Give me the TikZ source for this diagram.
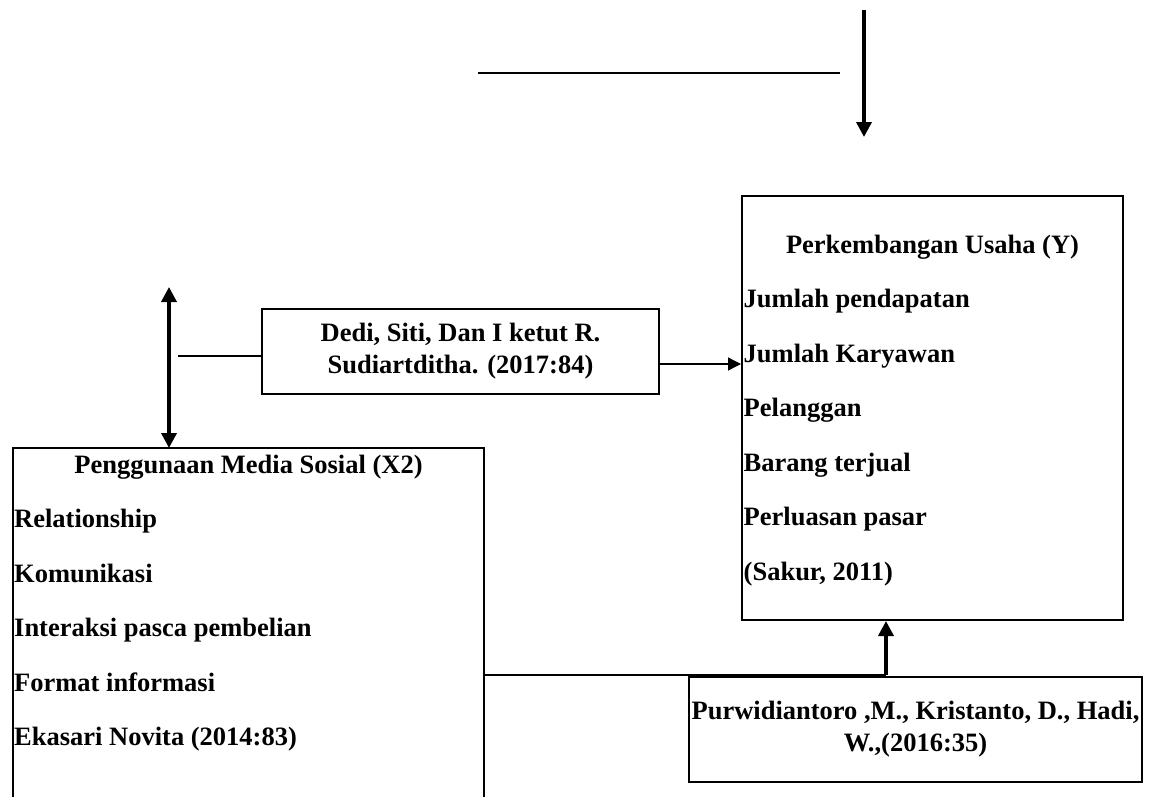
\documentclass[tikz,border=0pt]{standalone}
\usepackage{fontspec}
\setmainfont{Liberation Serif}
\usetikzlibrary{arrows.meta}

\tikzset{
  box/.style={draw, line width=2pt, rectangle, inner sep=0pt, align=center},
  itemtext/.style={anchor=base west, inner sep=0pt},
  titletext/.style={anchor=base, inner sep=0pt},
  thinline/.style={line width=1.3pt},
  thinarrow/.style={line width=1.3pt, -{Triangle[width=13pt,length=13pt]}},
  thickarrow/.style={line width=3.5pt, -{Triangle[width=15pt,length=15pt]}},
  botharrow/.style={line width=3.5pt, {Triangle[width=15pt,length=15pt]}-{Triangle[width=15pt,length=15pt]}}
}

\begin{document}
\begin{tikzpicture}[x=1pt, y=-1pt, font=\fontsize{26.5}{32}\selectfont\bfseries]
\useasboundingbox (0,0) rectangle (1154,796);

% boxes
\node[box, minimum width=381pt, minimum height=424pt] (usaha) at (932.5,408) {};
\node[box, minimum width=397pt, minimum height=85pt] (dedi) at (460.5,351.5) {Dedi, Siti, Dan I ketut R.\\Sudiartditha. (2017:84)};
\node[box, minimum width=453pt, minimum height=105pt] (purwi) at (915.5,729.5) {Purwidiantoro ,M., Kristanto, D., Hadi,\\W.,(2016:35)};
\coordinate (media-nw) at (13,448);
\coordinate (media-ne) at (484,448);
\draw[line width=2pt] (13,800) -- (media-nw) -- (media-ne) -- (484,800);

% box texts
\node[titletext] (usaha-title) at (932.5,253) {Perkembangan Usaha (Y)};
\foreach \txt [count=\i] in {Jumlah pendapatan, Jumlah Karyawan, Pelanggan, Barang terjual, Perluasan pasar, {(Sakur, 2011)}}
  \node[itemtext] (usaha-\i) at (743.5,253+54.5*\i) {\txt};
\node[titletext] (media-title) at (248.5,473) {Penggunaan Media Sosial (X2)};
\foreach \txt [count=\i] in {Relationship, Komunikasi, Interaksi pasca pembelian, Format informasi, Ekasari Novita (2014:83)}
  \node[itemtext] (media-\i) at (14,473+54.5*\i) {\txt};

% connectors
\coordinate (top-a) at (478,73);
\coordinate (top-b) at (840,73);
\draw[thinline] (top-a) -- (top-b);
\coordinate (drop-start) at (864,10);
\coordinate (drop-end) at (864,137);
\draw[thickarrow] (drop-start) -- (drop-end);
\coordinate (link-top) at (169,287);
\draw[botharrow] (link-top) -- (link-top |- media-nw);
\coordinate (stub) at (178,356);
\draw[thinline] (stub) -- (dedi.west |- stub);
\coordinate (dedi-out) at ([yshift=-12.5pt]dedi.east);
\draw[thinarrow] (dedi-out) -- (dedi-out -| usaha.west);
\coordinate (join) at (886,675);
\draw[thinline] (media-ne |- join) -- (join);
\draw[thickarrow] (join) -- (join |- usaha.south);
\end{tikzpicture}
\end{document}
